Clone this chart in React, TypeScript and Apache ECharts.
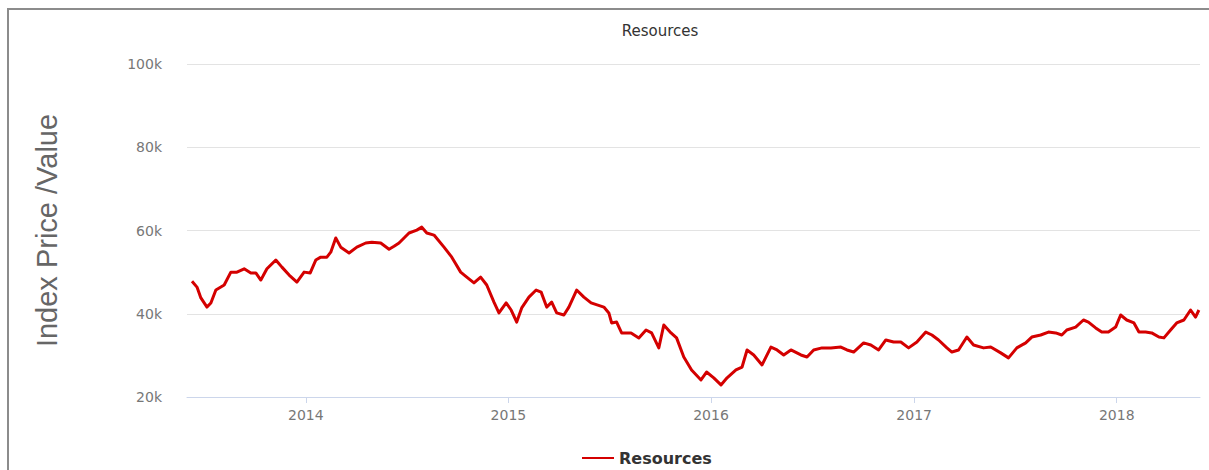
import React, { useEffect, useRef } from 'react';
import * as echarts from 'echarts';

const SERIES_NAME = 'Resources';
const TITLE = 'Resources';
const Y_NAME = 'Index Price /Value';
const YEAR_LABELS = ['2014', '2015', '2016', '2017', '2018'];
const X_START = '2013-06-01';
const X_END = '2018-05-31';

const DATES = [
  '2013-06-10', '2013-06-19', '2013-06-26', '2013-07-07', '2013-07-14', '2013-07-23', '2013-08-07', '2013-08-19',
  '2013-08-30', '2013-09-12', '2013-09-24', '2013-10-03', '2013-10-12', '2013-10-23', '2013-11-08', '2013-11-19',
  '2013-12-02', '2013-12-16', '2013-12-29', '2014-01-09', '2014-01-19', '2014-01-28', '2014-02-08', '2014-02-15',
  '2014-02-24', '2014-03-05', '2014-03-20', '2014-04-03', '2014-04-19', '2014-04-30', '2014-05-16', '2014-05-31',
  '2014-06-09', '2014-06-18', '2014-07-06', '2014-07-20', '2014-07-29', '2014-08-07', '2014-08-20', '2014-09-07',
  '2014-09-21', '2014-10-07', '2014-10-18', '2014-10-31', '2014-11-12', '2014-11-23', '2014-12-06', '2014-12-15',
  '2014-12-28', '2015-01-06', '2015-01-16', '2015-01-25', '2015-02-07', '2015-02-20', '2015-03-01', '2015-03-11',
  '2015-03-20', '2015-03-29', '2015-04-11', '2015-04-20', '2015-05-04', '2015-05-17', '2015-05-30', '2015-06-22',
  '2015-07-01', '2015-07-06', '2015-07-15', '2015-07-24', '2015-08-10', '2015-08-24', '2015-09-06', '2015-09-16',
  '2015-09-29', '2015-10-08', '2015-10-21', '2015-10-31', '2015-11-13', '2015-11-27', '2015-12-14', '2015-12-24',
  '2016-01-06', '2016-01-19', '2016-01-30', '2016-02-15', '2016-02-26', '2016-03-06', '2016-03-18', '2016-04-02',
  '2016-04-18', '2016-04-29', '2016-05-11', '2016-05-24', '2016-06-11', '2016-06-22', '2016-07-04', '2016-07-19',
  '2016-08-04', '2016-08-22', '2016-09-02', '2016-09-14', '2016-10-02', '2016-10-15', '2016-10-29', '2016-11-11',
  '2016-11-25', '2016-12-08', '2016-12-22', '2017-01-06', '2017-01-22', '2017-02-02', '2017-02-14', '2017-03-01',
  '2017-03-10', '2017-03-22', '2017-04-06', '2017-04-18', '2017-05-06', '2017-05-19', '2017-06-06', '2017-06-20',
  '2017-07-05', '2017-07-21', '2017-08-01', '2017-08-17', '2017-08-31', '2017-09-13', '2017-09-24', '2017-10-03',
  '2017-10-19', '2017-11-02', '2017-11-11', '2017-11-24', '2017-12-05', '2017-12-17', '2017-12-30', '2018-01-08',
  '2018-01-19', '2018-02-01', '2018-02-10', '2018-02-22', '2018-03-05', '2018-03-18', '2018-03-27', '2018-04-08',
  '2018-04-19', '2018-05-02', '2018-05-14', '2018-05-23', '2018-05-29',
];

const VALUES = [
  47800, 46400, 43800, 41600, 42600, 45700, 46900, 50000,
  50000, 50800, 49800, 49800, 48100, 50800, 52900, 51200,
  49300, 47600, 50000, 49800, 52900, 53600, 53600, 54800,
  58200, 56000, 54600, 56000, 57000, 57200, 57000, 55500,
  56200, 57000, 59400, 60100, 60800, 59400, 58900, 56000,
  53600, 50000, 48800, 47400, 48800, 46900, 42800, 40200,
  42600, 40900, 38000, 41400, 44000, 45700, 45200, 41600,
  42800, 40200, 39700, 41600, 45700, 44000, 42600, 41600,
  40200, 37800, 38000, 35400, 35400, 34200, 36100, 35400,
  31800, 37300, 35400, 34200, 29600, 26500, 24100, 26000,
  24600, 22900, 24600, 26500, 27200, 31300, 30100, 27700,
  32000, 31300, 30100, 31300, 30100, 29600, 31300, 31800,
  31800, 32000, 31300, 30800, 33000, 32500, 31300, 33700,
  33200, 33200, 31800, 33200, 35600, 34900, 33700, 31800,
  30800, 31300, 34400, 32500, 31800, 32000, 30600, 29400,
  31800, 33000, 34400, 34900, 35600, 35400, 34900, 36100,
  36800, 38500, 38000, 36600, 35600, 35600, 36800, 39700,
  38500, 37800, 35600, 35600, 35400, 34400, 34200, 36100,
  37800, 38500, 40900, 39200, 40900,
];

const Y_MIN = 20000;
const Y_MAX = 100000;
const Y_STEP = 20000;

const toTime = (d: string) => Date.parse(d + 'T00:00:00Z');

export default function App() {
  const ref = useRef<HTMLDivElement>(null);

  useEffect(() => {
    if (!ref.current) return;
    const chart = echarts.init(ref.current, null, { renderer: 'svg' });
    const yearTicks = YEAR_LABELS.map((y) => toTime(`${y}-01-01`));
    const lineColor = '#d40000';
    chart.setOption({
      animation: false,
      backgroundColor: '#ffffff',
      title: {
        text: TITLE,
        left: 646,
        top: 8,
        textAlign: 'center',
        textStyle: { fontSize: 15, fontWeight: 'normal', color: '#333333', fontFamily: 'DejaVu Sans' },
      },
      legend: {
        data: [SERIES_NAME],
        left: 568,
        top: 435,
        icon: 'rect',
        itemWidth: 32,
        itemHeight: 2,
        itemGap: 10,
        textStyle: { fontSize: 16, fontWeight: 'bold', color: '#333333', fontFamily: 'DejaVu Sans' },
      },
      grid: { left: 178, right: 30, top: 54, bottom: 73, containLabel: false },
      xAxis: {
        type: 'value',
        min: toTime(X_START),
        max: toTime(X_END),
        scale: true,
        splitLine: { show: false },
        axisLine: { show: true, onZero: false, lineStyle: { color: '#ccd6eb', width: 1 } },
        axisTick: { show: true, customValues: yearTicks, length: 6, lineStyle: { color: '#ccd6eb' } },
        axisLabel: {
          customValues: yearTicks,
          formatter: (v: number) => String(new Date(v + 86400000).getUTCFullYear()),
          color: '#777777',
          fontSize: 14,
          fontFamily: 'DejaVu Sans',
          margin: 11,
        },
      },
      yAxis: {
        type: 'value',
        min: Y_MIN,
        max: Y_MAX,
        interval: Y_STEP,
        name: Y_NAME,
        nameLocation: 'middle',
        nameGap: 126,
        nameTextStyle: { fontSize: 29, color: '#666666', fontFamily: 'Liberation Sans' },
        axisLine: { show: false },
        axisTick: { show: false },
        splitLine: { lineStyle: { color: '#e3e3e3', width: 1 } },
        axisLabel: {
          formatter: (v: number) => `${v / 1000}k`,
          color: '#777777',
          fontSize: 14,
          fontFamily: 'DejaVu Sans',
          margin: 25,
        },
      },
      series: [
        {
          type: 'line',
          name: SERIES_NAME,
          data: DATES.map((d, i) => [toTime(d), VALUES[i]]),
          showSymbol: false,
          symbol: 'none',
          lineStyle: { color: lineColor, width: 3, join: 'round' },
          itemStyle: { color: lineColor },
        },
      ],
    });
    return () => chart.dispose();
  }, []);

  return (
    <div
      style={{
        position: 'fixed',
        left: 7,
        top: 8,
        width: 1240,
        height: 480,
        borderTop: '2px solid #8c8c8c',
        borderLeft: '2px solid #8c8c8c',
        boxSizing: 'border-box',
        background: '#ffffff',
        overflow: 'hidden',
      }}
    >
      <div ref={ref} style={{ width: 1221, height: 460 }} />
    </div>
  );
}
